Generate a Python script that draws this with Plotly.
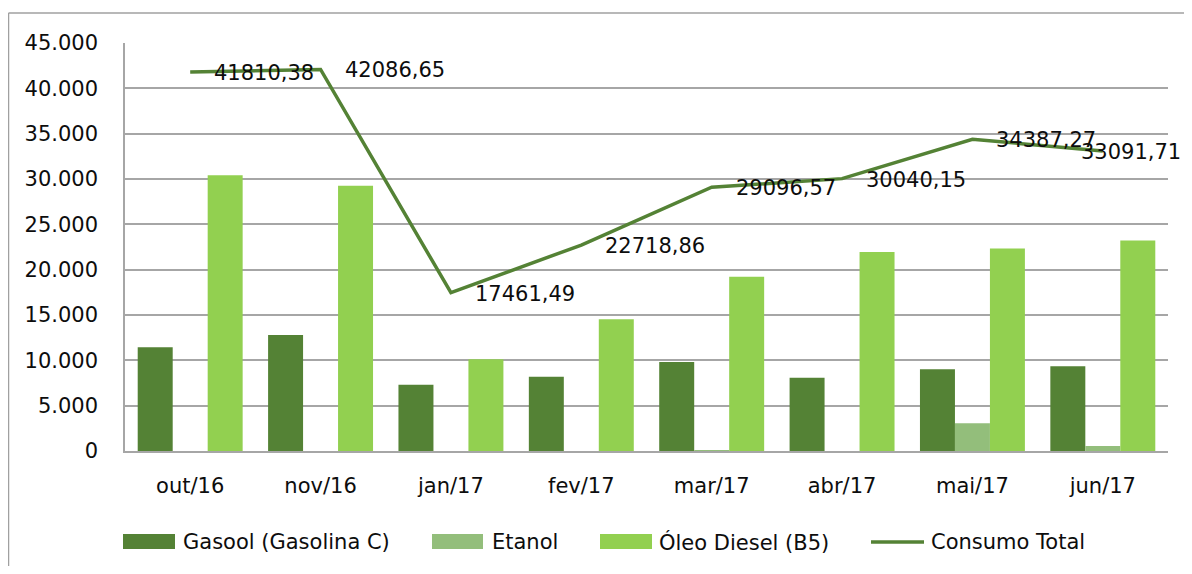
import plotly.graph_objects as go

categories = ["out/16", "nov/16", "jan/17", "fev/17", "mar/17", "abr/17", "mai/17", "jun/17"]
gasool = [11440, 12790, 7310, 8200, 9820, 8090, 9010, 9340]
etanol = [0, 0, 0, 0, 30, 0, 3050, 550]
diesel = [30400, 29250, 10120, 14520, 19210, 21950, 22330, 23220]
consumo_total = [41810.38, 42086.65, 17461.49, 22718.86, 29096.57, 30040.15, 34387.27, 33091.71]
series_names = ["Gasool (Gasolina C)", "Etanol", "Óleo Diesel (B5)", "Consumo Total"]
y_ticks = [0, 5000, 10000, 15000, 20000, 25000, 30000, 35000, 40000, 45000]

C_GAS = "#548235"
C_ETA = "#93BE7B"
C_DIE = "#92D050"
C_LINE = "#548235"
FONT = "DejaVu Sans"
GRID = "#A6A6A6"
TXT = "#0d0d0d"

OFF = 8  # default page body margin
PAGE_W, PAGE_H = 1192, 574
W, H = PAGE_W - 2 * OFF, PAGE_H - 2 * OFF
# plot area in page pixels
PL, PR, PT, PB = 125, 1168, 43, 451
L, T = PL - OFF, PT - OFF
R = (OFF + W) - PR
B = (OFF + H) - PB
PW, PH = PR - PL, PB - PT


def px(xp):
    return (xp - PL) / PW


def py(yp):
    return (PB - yp) / PH


fig = go.Figure()
for name, vals, col in [(series_names[0], gasool, C_GAS),
                        (series_names[1], etanol, C_ETA),
                        (series_names[2], diesel, C_DIE)]:
    fig.add_trace(go.Bar(x=categories, y=vals, name=name, marker=dict(color=col, line=dict(width=0)),
                         showlegend=False))

fig.add_trace(go.Scatter(x=categories, y=consumo_total, name=series_names[3], mode="lines",
                         line=dict(color=C_LINE, width=3.5), showlegend=False))

annotations = []
n = len(categories)
for i, (c, v) in enumerate(zip(categories, consumo_total)):
    last = i == n - 1
    annotations.append(dict(x=c, y=v, xref="x", yref="y", text=f"{v:.2f}".replace(".", ","),
                            showarrow=False, xanchor="right" if last else "left", yanchor="middle",
                            xshift=80 if last else 22, yshift=-1,
                            font=dict(family=FONT, size=21, color=TXT)))

shapes = [
    dict(type="line", xref="paper", yref="paper", x0=px(8.5), x1=px(PAGE_W + 5), y0=py(13), y1=py(13),
         line=dict(color="#A0A0A0", width=1.5)),
    dict(type="line", xref="paper", yref="paper", x0=px(8.5), x1=px(8.5), y0=py(13), y1=py(PAGE_H + 5),
         line=dict(color="#A0A0A0", width=1.5)),
]

legend_items = [
    ("rect", C_GAS, 123, 175, 181, series_names[0]),
    ("rect", C_ETA, 432, 483, 490, series_names[1]),
    ("rect", C_DIE, 600, 652, 657, series_names[2]),
    ("line", C_LINE, 871, 924, 929, series_names[3]),
]
for kind, col, x0, x1, xt, label in legend_items:
    if kind == "rect":
        shapes.append(dict(type="rect", xref="paper", yref="paper", x0=px(x0), x1=px(x1),
                           y0=py(549), y1=py(534), fillcolor=col, line=dict(width=0)))
    else:
        shapes.append(dict(type="line", xref="paper", yref="paper", x0=px(x0), x1=px(x1),
                           y0=py(542), y1=py(542), line=dict(color=col, width=3.5)))
    annotations.append(dict(x=px(xt), y=py(542), xref="paper", yref="paper", text=label,
                            showarrow=False, xanchor="left", yanchor="middle",
                            font=dict(family=FONT, size=21, color=TXT)))

fig.update_layout(
    width=W, height=H,
    margin=dict(l=L, r=R, t=T, b=B, pad=0),
    paper_bgcolor="white", plot_bgcolor="white",
    barmode="group", bargap=0.195, bargroupgap=0,
    separators=",.",
    font=dict(family=FONT, size=21, color=TXT),
    showlegend=False,
    shapes=shapes,
    annotations=annotations,
    xaxis=dict(range=[-0.5, n - 0.5], autorange=False, showgrid=False,
               showline=True, linecolor=GRID, linewidth=1.5,
               ticks="", ticklabelstandoff=15, tickfont=dict(family=FONT, size=21, color=TXT)),
    yaxis=dict(range=[0, 45000], autorange=False, tickvals=y_ticks, tickformat=",.0f", separatethousands=True,
               showgrid=True, gridcolor=GRID, gridwidth=1.5, zeroline=False,
               showline=True, linecolor=GRID, linewidth=1.5, ticks="", ticklabelstandoff=21,
               tickfont=dict(family=FONT, size=21, color=TXT)),
)

fig.write_html("out.html")
